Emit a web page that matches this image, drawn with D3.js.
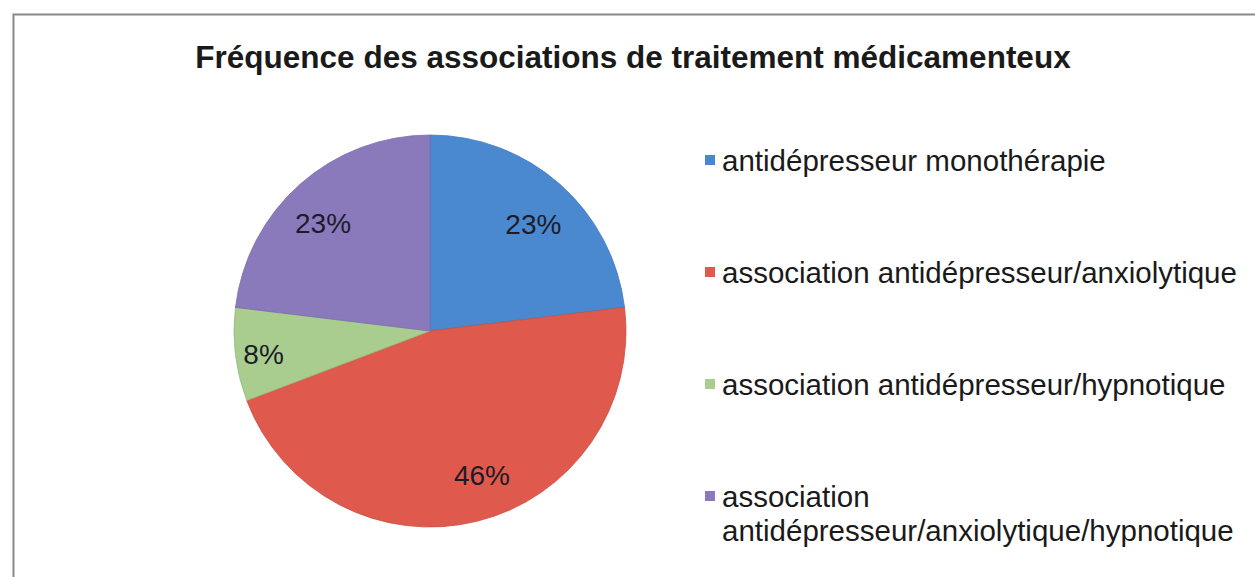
<!DOCTYPE html>
<html><head><meta charset="utf-8">
<script src="https://cdn.jsdelivr.net/npm/d3@7"></script>
<style>body{margin:0;background:#fff}svg{display:block}</style>
</head><body>
<svg id="chart" width="1255" height="577"></svg>
<script>
const categories = ["antidépresseur monothérapie","association antidépresseur/anxiolytique","association antidépresseur/hypnotique","association antidépresseur/anxiolytique/hypnotique"];
const legendLines = [["antidépresseur monothérapie"],["association antidépresseur/anxiolytique"],["association antidépresseur/hypnotique"],["association","antidépresseur/anxiolytique/hypnotique"]];
const values = [3, 6, 1, 3];
const labels = ["23%","46%","8%","23%"];
const colors = ["#4A89CF","#DF5A4C","#A8CD8E","#8A7ABC"];
const title = "Fréquence des associations de traitement médicamenteux";

const svg = d3.select("#chart");
const W = 1255, H = 577;
svg.append("rect").attr("x",13.5).attr("y",14.5).attr("width",W+10).attr("height",H+10)
  .attr("fill","#fff").attr("stroke","#8a8a8a").attr("stroke-width",2);

svg.append("text").attr("x",633).attr("y",68).attr("text-anchor","middle")
  .attr("font-family","Liberation Sans, Arial, sans-serif").attr("font-weight","bold")
  .attr("font-size",31.5).attr("fill","#1a1a1a").text(title);

const cx = 430, cy = 331, R = 196;
const pie = d3.pie().sort(null).value(d=>d);
const arcs = pie(values);
const arc = d3.arc().innerRadius(0).outerRadius(R);
const g = svg.append("g").attr("transform",`translate(${cx},${cy})`);
g.selectAll("path").data(arcs).join("path").attr("d",arc)
  .attr("fill",(d,i)=>colors[i]).attr("stroke",(d,i)=>d3.color(colors[i]).darker(0.3)).attr("stroke-width",0.8);

// label placement style: radius (px) and small angular nudge (deg) per slice
const labelR = [149,153,168,152];
const labelNudge = [2.4,-6,-1,-3.2];
g.selectAll("text").data(arcs).join("text")
  .attr("transform",(d,i)=>{const a=(d.startAngle+d.endAngle)/2+labelNudge[i]*Math.PI/180;return `translate(${Math.sin(a)*labelR[i]},${-Math.cos(a)*labelR[i]})`;})
  .attr("text-anchor","middle").attr("dy","0.36em")
  .attr("font-family","Liberation Sans, Arial, sans-serif").attr("font-size",28).attr("fill","#1c1c28")
  .text((d,i)=>labels[i]);

const ly = d3.scalePoint().domain(d3.range(categories.length)).range([160,496]);
const leg = svg.append("g");
categories.forEach((c,i)=>{
  const y = ly(i);
  leg.append("rect").attr("x",705).attr("y",y-5).attr("width",10).attr("height",10).attr("fill",colors[i]);
  const t = leg.append("text").attr("x",722).attr("y",y).attr("dominant-baseline","central")
    .attr("font-family","Liberation Sans, Arial, sans-serif").attr("font-size",29.5).attr("fill","#1a1a1a");
  legendLines[i].forEach((ln,j)=>t.append("tspan").attr("x",722).attr("dy",j===0?0:34).text(ln));
});
</script>
</body></html>
